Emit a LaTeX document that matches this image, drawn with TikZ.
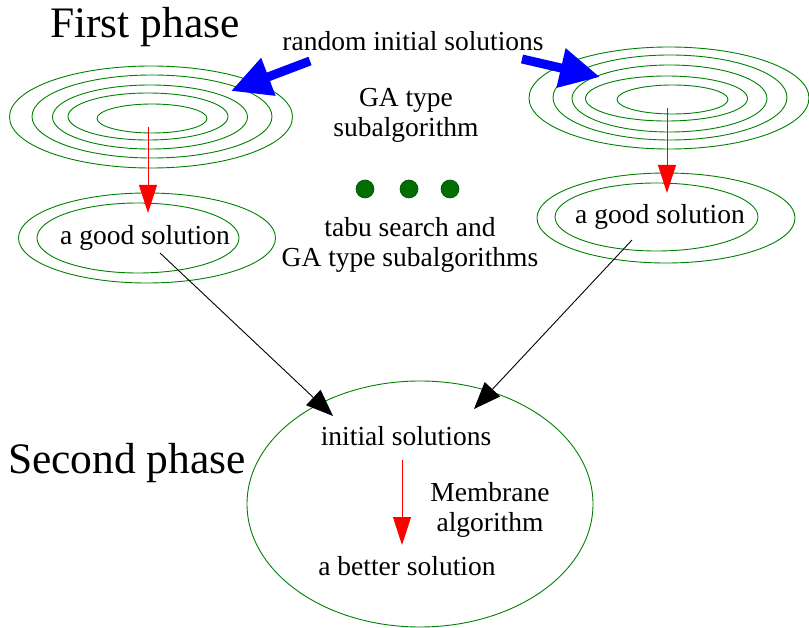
\documentclass[tikz,border=0pt]{standalone}
\usepackage{fontspec}
\setmainfont{Liberation Serif}
\usetikzlibrary{shapes.geometric,arrows.meta}
\definecolor{ringgreen}{RGB}{0,128,0}
\definecolor{dotgreen}{RGB}{0,110,0}
\begin{document}
\begin{tikzpicture}[x=1pt,y=-1pt,
  ring/.style={draw=ringgreen,line width=0.9pt,ellipse,inner sep=0pt},
  lbl/.style={font=\fontsize{27.5}{30}\selectfont,align=center,inner sep=0pt},
  big/.style={font=\fontsize{43.5}{46}\selectfont,inner sep=0pt},
  redarrow/.style={draw=red,line width=1pt,-{Triangle[length=28pt,width=18pt]},red},
  blackarrow/.style={draw=black,line width=0.9pt,-{Triangle[length=27pt,width=21pt]}},
  bluearrow/.style={draw=blue,line width=9pt,-{Triangle[length=40pt,width=38pt]},blue},
  dot/.style={circle,fill=dotgreen,draw=black!70!green,line width=0.6pt,minimum size=18pt,inner sep=0pt}]
\useasboundingbox (0,0) rectangle (809,628);

% headings
\node[big] (p1) at (145,27) {First phase};
\node[big] (p2) at (127,463) {Second phase};

% left start region: concentric rings
\node[ring,minimum width=283pt,minimum height=102pt] (La) at (151,117) {};
\node[ring,minimum width=240pt,minimum height=83pt] (Lb) at (152,116.5) {};
\node[ring,minimum width=195pt,minimum height=64pt] (Lc) at (150,117) {};
\node[ring,minimum width=160pt,minimum height=47pt] (Ld) at (148,116.5) {};
\node[ring,minimum width=110pt,minimum height=29pt] (Le) at (152,118.5) {};

% right start region: concentric rings
\node[ring,minimum width=280pt,minimum height=102pt] (Ra) at (669,98) {};
\node[ring,minimum width=234pt,minimum height=85pt] (Rb) at (670,97.5) {};
\node[ring,minimum width=195pt,minimum height=67pt] (Rc) at (669.5,98.5) {};
\node[ring,minimum width=162pt,minimum height=45pt] (Rd) at (666.5,98.5) {};
\node[ring,minimum width=111pt,minimum height=29pt] (Re) at (672.5,99.5) {};

% good solutions
\node[ring,minimum width=257pt,minimum height=90pt] (Lg1) at (147,238) {};
\node[ring,minimum width=202pt,minimum height=70pt] (Lg2) at (138,238) {};
\node[lbl] (Lgt) at (145,238) {a good solution};
\node[ring,minimum width=258pt,minimum height=90pt] (Rg1) at (666,218) {};
\node[ring,minimum width=203pt,minimum height=68pt] (Rg2) at (656.5,217) {};
\node[lbl] (Rgt) at (660,217) {a good solution};

% membrane region
\node[ring,minimum width=346pt,minimum height=246pt] (M) at (420,504) {};
\node[lbl] (Mi) at (406,436) {initial solutions};
\node[lbl] (Mb) at (407,566) {a better solution};
\node[lbl] (Mt) at (490,510) {Membrane\\algorithm};

% middle labels
\node[lbl] (rnd) at (413,41) {random initial solutions};
\node[lbl] (ga) at (406,115) {GA type\\subalgorithm};
\node[lbl] (tabu) at (410,245) {tabu search and\\GA type subalgorithms};
\node[dot] (d1) at (365,189) {};
\node[dot] (d2) at (409,189) {};
\node[dot] (d3) at (450,189) {};

% connector ends
\coordinate (bl0) at (310,61);
\coordinate (bl1) at (231,91);
\coordinate (br0) at (522,59);
\coordinate (br1) at (600,77);
\coordinate (rl0) at (148,127);
\coordinate (rl1) at (148,213);
\coordinate (rr0) at (667,108);
\coordinate (rr1) at (667,193);
\coordinate (rm0) at (402,460);
\coordinate (rm1) at (402,545);
\coordinate (kl0) at (160,253);
\coordinate (kl1) at (333,416);
\coordinate (kr0) at (632,240);
\coordinate (kr1) at (474,409);

\draw[bluearrow] (bl0) -- (bl1);
\draw[bluearrow] (br0) -- (br1);
\draw[redarrow] (rl0) -- (rl1);
\draw[redarrow] (rr0) -- (rr1);
\draw[redarrow] (rm0) -- (rm1);
\draw[blackarrow] (kl0) -- (kl1);
\draw[blackarrow] (kr0) -- (kr1);
\end{tikzpicture}
\end{document}
